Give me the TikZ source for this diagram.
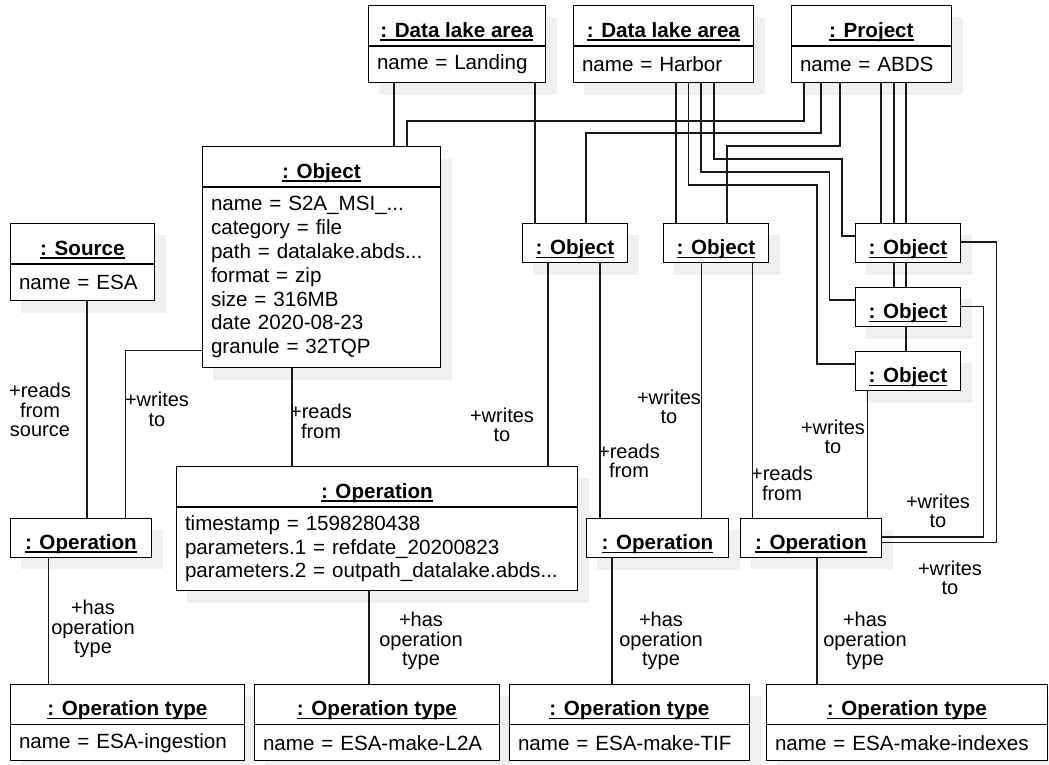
\documentclass[tikz,border=0pt]{standalone}
\usepackage{fontspec}
\setmainfont{Liberation Sans}
\usetikzlibrary{positioning, calc, backgrounds}

\newcommand{\uname}[1]{\setbox0\hbox{#1}\rlap{\rule[-1.6pt]{\wd0}{0.75pt}}\box0}

\begin{document}
\begin{tikzpicture}[
    x=0.5pt, y=-0.5pt,
    every node/.style={font=\fontsize{10.3}{11.9}\selectfont},
    objhead/.style={draw, fill=white, inner sep=0pt, minimum height=20pt, minimum width=#1,
      text height=12pt, text depth=0pt,
      font=\fontsize{10.3}{11.9}\selectfont\bfseries, anchor=north west},
    objbox/.style={objhead=#1, minimum height=19.5pt},
    objattr/.style={draw, fill=white, inner xsep=4.3pt, inner ysep=0pt, align=left,
      text width=#1, minimum height=18pt},
    assoc/.style={line width=0.85pt, black!90},
    boxshade/.style={fill=black!6},
    lbl/.style={align=center, inner sep=0pt, font=\fontsize{10}{9.8}\selectfont},
  ]
  \useasboundingbox (0,0) rectangle (1049,765);

  % Data lake areas and project
  \node[objhead=88.5pt] (lakeland) at (368,5) {\uname{: Data lake area}};
  \node[objattr=79.9pt, below=0pt of lakeland] (lakelandv) {name = Landing};
  \node[objhead=90pt] (lakeharb) at (573,5) {\uname{: Data lake area}};
  \node[objattr=81.4pt, below=0pt of lakeharb] (lakeharbv) {name = Harbor};
  \node[objhead=80pt] (proj) at (791,5) {\uname{: Project}};
  \node[objattr=71.4pt, below=0pt of proj] (projv) {name = ABDS};

  % Source and objects
  \node[objhead=72pt] (src) at (10,223) {\uname{: Source}};
  \node[objattr=63.4pt, below=0pt of src] (srcv) {name = ESA};
  \node[objhead=119pt] (s2a) at (202,146) {\uname{: Object}};
  \node[objattr=110.4pt, below=0pt of s2a, minimum height=90pt] (s2av)
    {name = S2A\_MSI\_...\\category = file\\path = datalake.abds...\\format = zip\\size = 316MB\\date 2020-08-23\\granule = 32TQP};
  \node[objbox=52.5pt] (objl) at (522,223) {\uname{: Object}};
  \node[objbox=52.5pt] (objh) at (663,223) {\uname{: Object}};
  \node[objbox=52.5pt] (obj1) at (855,223) {\uname{: Object}};
  \node[objbox=52.5pt] (obj2) at (855,287) {\uname{: Object}};
  \node[objbox=52.5pt] (obj3) at (855,351) {\uname{: Object}};

  % Operations
  \node[objbox=70.5pt] (ingest) at (10,517.5) {\uname{: Operation}};
  \node[objhead=200.5pt] (l2a) at (176,466) {\uname{: Operation}};
  \node[objattr=191.9pt, below=0pt of l2a, minimum height=41.5pt] (l2av)
    {timestamp = 1598280438\\parameters.1 = refdate\_20200823\\parameters.2 = outpath\_datalake.abds...};
  \node[objbox=71pt] (tif) at (586,518) {\uname{: Operation}};
  \node[objbox=70.5pt] (idx) at (740,517.5) {\uname{: Operation}};

  % Operation types
  \node[objhead=117pt] (tingest) at (10,683.5) {\uname{: Operation type}};
  \node[objattr=108.4pt, below=0pt of tingest] (tingestv) {name = ESA-ingestion};
  \node[objhead=122.5pt] (tl2a) at (254,683.5) {\uname{: Operation type}};
  \node[objattr=113.9pt, below=0pt of tl2a] (tl2av) {name = ESA-make-L2A};
  \node[objhead=120pt] (ttif) at (509,683.5) {\uname{: Operation type}};
  \node[objattr=111.4pt, below=0pt of ttif] (ttifv) {name = ESA-make-TIF};
  \node[objhead=140.5pt] (tidx) at (766,683.5) {\uname{: Operation type}};
  \node[objattr=131.9pt, below=0pt of tidx] (tidxv) {name = ESA-make-indexes};

  \begin{pgfonlayer}{background}
    % Shadows
    \foreach \n in {lakeland,lakelandv,lakeharb,lakeharbv,proj,projv,src,srcv,s2a,s2av,
        objl,objh,obj1,obj2,obj3,ingest,l2a,l2av,tif,idx,
        tingest,tingestv,tl2a,tl2av,ttif,ttifv,tidx,tidxv}
      \fill[boxshade] ($(\n.south west)+(11,12)$) rectangle ($(\n.north east)+(11,12)$);

    % Links from areas and project
    \draw[assoc] (lakelandv.south -| 394,0) -- (s2a.north -| 394,0);
    \draw[assoc] (lakelandv.south -| 535,0) -- (objl.north -| 535,0);
    \draw[assoc] (projv.south -| 804,0) |- (407,121) -- (s2a.north -| 407,0);
    \draw[assoc] (projv.south -| 821,0) |- (586,133) -- (objl.north -| 586,0);
    \draw[assoc] (lakeharbv.south -| 676,0) -- (objh.north -| 676,0);
    \draw[assoc] (projv.south -| 840,0) |- (727,146) -- (objh.north -| 727,0);
    \draw[assoc] (lakeharbv.south -| 714,0) |- (842,159) |- (obj1.west |- 0,236);
    \draw[assoc] (lakeharbv.south -| 701,0) |- (829.5,172) |- (obj2.west |- 0,300);
    \draw[assoc] (lakeharbv.south -| 688.5,0) |- (817,185) |- (obj3.west |- 0,364);
    \draw[assoc] (projv.south -| 881,0) -- (obj1.north -| 881,0);
    \draw[assoc] (projv.south -| 894,0) -- (obj2.north -| 894,0);
    \draw[assoc] (projv.south -| 906,0) -- (obj3.north -| 906,0);

    % Reads and writes
    \draw[assoc] (obj1.east |- 0,242) -| (996.5,542.5) -- (idx.east |- 0,542.5);
    \draw[assoc] (obj2.east |- 0,306.5) -| (983.5,537) -- (idx.east |- 0,537);
    \draw[assoc] (obj3.south -| 867.5,0) -- (idx.north -| 867.5,0);
    \draw[assoc] (objh.south -| 752.5,0) -- (idx.north -| 752.5,0);
    \draw[assoc] (objh.south -| 701.5,0) -- (tif.north -| 701.5,0);
    \draw[assoc] (objl.south -| 600,0) -- (tif.north -| 600,0);
    \draw[assoc] (objl.south -| 548,0) -- (l2a.north -| 548,0);
    \draw[assoc] (s2av.south -| 292,0) -- (l2a.north -| 292,0);
    \draw[assoc] (s2av.west |- 0,350.5) -| (ingest.north -| 125.5,0);
    \draw[assoc] (srcv.south -| 87,0) -- (ingest.north -| 87,0);

    % Operation types
    \draw[assoc] (ingest.south -| 48.5,0) -- (tingest.north -| 48.5,0);
    \draw[assoc] (l2av.south -| 369,0) -- (tl2a.north -| 369,0);
    \draw[assoc] (tif.south -| 612,0) -- (ttif.north -| 612,0);
    \draw[assoc] (idx.south -| 817,0) -- (tidx.north -| 817,0);
  \end{pgfonlayer}

  % Role labels
  \node[lbl] at (40,410) {+reads\\from\\source};
  \node[lbl] at (157,409.5) {+writes\\to};
  \node[lbl] at (321,421.5) {+reads\\from};
  \node[lbl] at (502,425) {+writes\\to};
  \node[lbl] at (629,461) {+reads\\from};
  \node[lbl] at (669,407) {+writes\\to};
  \node[lbl] at (782,483.5) {+reads\\from};
  \node[lbl] at (833,437) {+writes\\to};
  \node[lbl] at (938,511) {+writes\\to};
  \node[lbl] at (950,578) {+writes\\to};
  \node[lbl] at (93,629) {+has\\operation\\type};
  \node[lbl] at (421,641) {+has\\operation\\type};
  \node[lbl] at (661,641) {+has\\operation\\type};
  \node[lbl] at (865,641) {+has\\operation\\type};

\end{tikzpicture}
\end{document}
